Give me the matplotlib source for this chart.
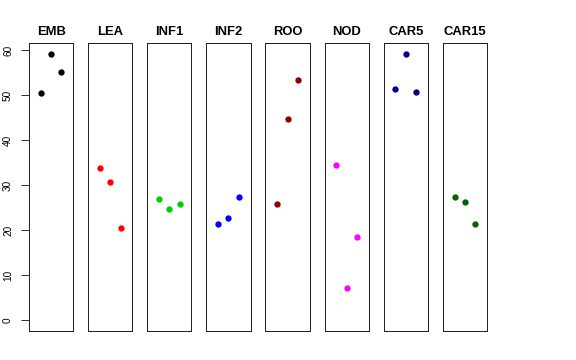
import matplotlib
matplotlib.use("Agg")
import matplotlib.pyplot as plt

plt.rcParams['font.family'] = ['Liberation Sans', 'DejaVu Sans']

# tissue groups and their three replicate values
groups = ["EMB", "LEA", "INF1", "INF2", "ROO", "NOD", "CAR5", "CAR15"]
emb = [50.4, 59.1, 55.1]
lea = [33.9, 30.6, 20.6]
inf1 = [26.9, 24.7, 25.9]
inf2 = [21.3, 22.8, 27.4]
roo = [25.9, 44.6, 53.4]
nod = [34.4, 7.2, 18.6]
car5 = [51.3, 59.2, 50.7]
car15 = [27.4, 26.2, 21.4]
values = [emb, lea, inf1, inf2, roo, nod, car5, car15]
colors = ["black", "red", "#00CD00", "blue", "#8B0000", "magenta", "#00008B", "#006400"]
yticks = [0, 10, 20, 30, 40, 50, 60]

fig = plt.figure(figsize=(8, 5), dpi=72)

W, H = 576, 360
ymax = max(max(v) for v in values)
for i, (name, vals, col) in enumerate(zip(groups, values, colors)):
    left = 29 + i * 59.1
    ax = fig.add_axes([left / W, 1 - 331 / H, 44.3 / W, 288 / H])
    ax.scatter(range(1, len(vals) + 1), vals, s=40, color=col, zorder=3, linewidths=0)
    ax.set_xlim(-0.16, 4.16)
    ax.set_ylim(-0.04 * ymax, 1.04 * ymax)
    ax.set_xticks([])
    ax.set_title(name, fontsize=13, fontweight="bold", pad=8)
    for sp in ax.spines.values():
        sp.set_linewidth(1.0)
        sp.set_color("#222222")
    if i == 0:
        ax.set_yticks(yticks)
        ax.set_yticklabels([str(t) for t in yticks], rotation=90, va="center", fontsize=10)
        ax.tick_params(axis="y", length=8, width=0.8, pad=8)
    else:
        ax.set_yticks([])

fig.savefig("out.png", dpi=72)
